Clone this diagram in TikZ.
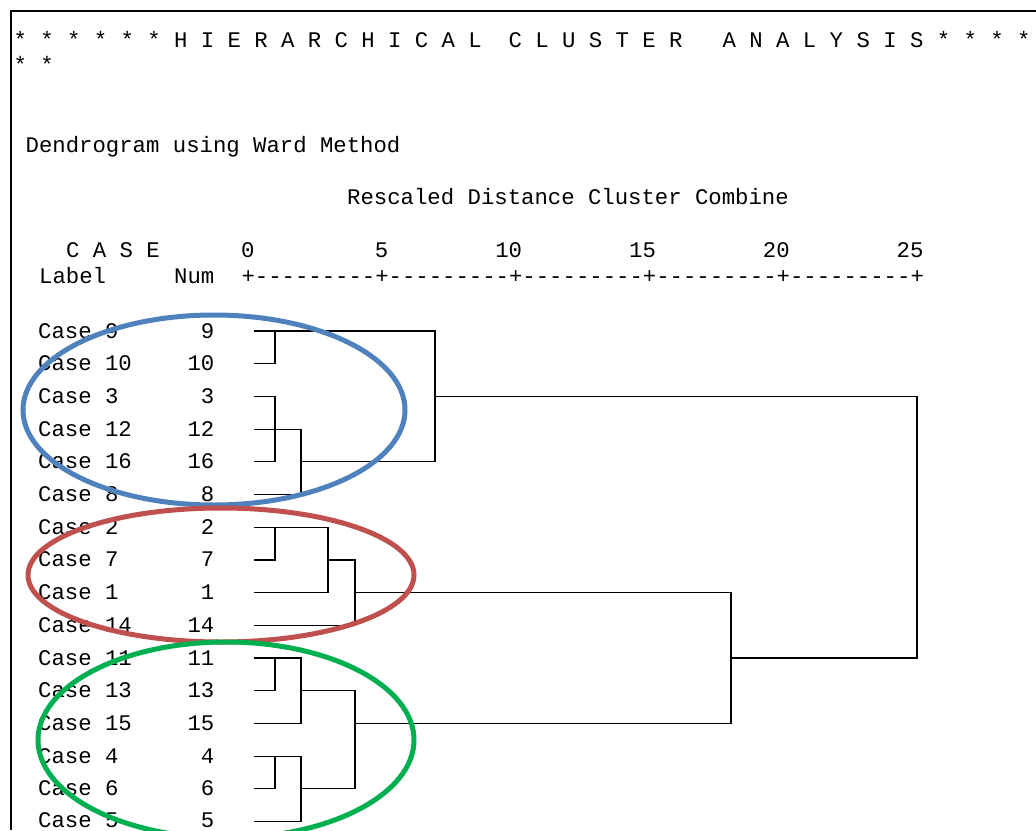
\documentclass[tikz,border=0pt]{standalone}
\usepackage{fontspec}
\newfontfamily\spssfont{Liberation Mono}
\definecolor{ringblue}{HTML}{4F81BD}
\definecolor{ringred}{HTML}{C0504D}
\definecolor{ringgreen}{HTML}{00B050}
\tikzset{
  txt/.style={font=\spssfont\fontsize{22.3}{26}\selectfont,inner sep=0pt,anchor=base west},
  num/.style={txt,anchor=base east},
  tree/.style={line width=1.2pt,line cap=rect},
  ring/.style={line width=5pt}
}
\begin{document}
\begin{tikzpicture}[x=1pt,y=-1pt]
            \useasboundingbox (0,0) rectangle (1036,830);
            \fill[white] (0,0) rectangle (1036,830);
            \draw[line width=2.5pt] (11,830) -- (11,11) -- (1036,11);

            \node[txt] (title) at (13.3,47) {*~*~*~*~*~*~H~I~E~R~A~R~C~H~I~C~A~L~~C~L~U~S~T~E~R~~~A~N~A~L~Y~S~I~S~*~*~*~*};
            \node[txt] (stars) at (13.3,72) {*~*};
            \node[txt] (method) at (25.5,152) {Dendrogram using Ward Method};
            \node[txt] (rescaled) at (347,204) {Rescaled Distance Cluster Combine};
            \node[txt] (case) at (66,257) {C~A~S~E};
            \node[txt] (label) at (39,283) {Label};
            \node[num] (numhead) at (214.5,283) {Num};
            \node[txt] (axis) at (241.3,283) {+---------+---------+---------+---------+---------+};
            \node[num] (t0) at (254.7,257) {0};
            \node[num] (t5) at (388.5,257) {5};
            \node[num] (t10) at (522.3,257) {10};
            \node[num] (t15) at (656.1,257) {15};
            \node[num] (t20) at (789.9,257) {20};
            \node[num] (t25) at (923.7,257) {25};

            \node[txt] (l9) at (38,338) {Case 9};
            \node[txt] (l10) at (38,370.7) {Case 10};
            \node[txt] (l3) at (38,403.4) {Case 3};
            \node[txt] (l12) at (38,436.1) {Case 12};
            \node[txt] (l16) at (38,468.8) {Case 16};
            \node[txt] (l8) at (38,501.5) {Case 8};
            \node[txt] (l2) at (38,534.2) {Case 2};
            \node[txt] (l7) at (38,566.9) {Case 7};
            \node[txt] (l1) at (38,599.6) {Case 1};
            \node[txt] (l14) at (38,632.3) {Case 14};
            \node[txt] (l11) at (38,665) {Case 11};
            \node[txt] (l13) at (38,697.7) {Case 13};
            \node[txt] (l15) at (38,730.4) {Case 15};
            \node[txt] (l4) at (38,763.1) {Case 4};
            \node[txt] (l6) at (38,795.8) {Case 6};
            \node[txt] (l5) at (38,827.6) {Case 5};

            \node[num] (n9) at (214.5,338) {9};
            \node[num] (n10) at (214.5,370.7) {10};
            \node[num] (n3) at (214.5,403.4) {3};
            \node[num] (n12) at (214.5,436.1) {12};
            \node[num] (n16) at (214.5,468.8) {16};
            \node[num] (n8) at (214.5,501.5) {8};
            \node[num] (n2) at (214.5,534.2) {2};
            \node[num] (n7) at (214.5,566.9) {7};
            \node[num] (n1) at (214.5,599.6) {1};
            \node[num] (n14) at (214.5,632.3) {14};
            \node[num] (n11) at (214.5,665) {11};
            \node[num] (n13) at (214.5,697.7) {13};
            \node[num] (n15) at (214.5,730.4) {15};
            \node[num] (n4) at (214.5,763.1) {4};
            \node[num] (n6) at (214.5,795.8) {6};
            \node[num] (n5) at (214.5,827.6) {5};

            \coordinate (c9) at (255,331);
            \coordinate (c10) at (255,363.7);
            \coordinate (c3) at (255,396.4);
            \coordinate (c12) at (255,429.1);
            \coordinate (c16) at (255,461.8);
            \coordinate (c8) at (255,494.5);
            \coordinate (c2) at (255,527.2);
            \coordinate (c7) at (255,559.9);
            \coordinate (c1) at (255,592.6);
            \coordinate (c14) at (255,625.3);
            \coordinate (c11) at (255,658);
            \coordinate (c13) at (255,690.7);
            \coordinate (c15) at (255,723.4);
            \coordinate (c4) at (255,756.1);
            \coordinate (c6) at (255,788.8);
            \coordinate (c5) at (255,821.5);

            \coordinate (m9) at (275,331);
            \coordinate (m12) at (275,429.1);
            \coordinate (m16) at (301,461.8);
            \coordinate (mblue) at (435,396.4);
            \coordinate (m2) at (275,527.2);
            \coordinate (m7) at (328,559.9);
            \coordinate (mred) at (355,592.6);
            \coordinate (m11) at (275,658);
            \coordinate (m13) at (301,690.7);
            \coordinate (m4) at (275,756.1);
            \coordinate (m6) at (301,788.8);
            \coordinate (mgreen) at (355,723.4);
            \coordinate (mlow) at (731,658);
            \coordinate (mall) at (917,527);

            \draw[tree] (c9) -- (m9) -| (mblue);
            \draw[tree] (c10) -| (m9);
            \draw[tree] (c3) -| (m12);
            \draw[tree] (c16) -| (m12);
            \draw[tree] (c12) -- (m12) -| (m16);
            \draw[tree] (c8) -| (m16);
            \draw[tree] (m16) -| (mblue);
            \draw[tree] (mblue) -| (mall);

            \draw[tree] (c2) -- (m2) -| (m7);
            \draw[tree] (c7) -| (m2);
            \draw[tree] (c1) -| (m7);
            \draw[tree] (m7) -| (mred);
            \draw[tree] (c14) -| (mred);
            \draw[tree] (mred) -| (mlow);

            \draw[tree] (c11) -- (m11) -| (m13);
            \draw[tree] (c13) -| (m11);
            \draw[tree] (c15) -| (m13);
            \draw[tree] (m13) -| (mgreen);
            \draw[tree] (c4) -- (m4) -| (m6);
            \draw[tree] (c6) -| (m4);
            \draw[tree] (c5) -| (m6);
            \draw[tree] (m6) -| (mgreen);
            \draw[tree] (mgreen) -| (mlow);
            \draw[tree] (mlow) -| (mall);

            \draw[ring,ringblue] (214,410) ellipse [x radius=191,y radius=95];
            \draw[ring,ringred] (221,575) ellipse [x radius=193,y radius=67];
            \draw[ring,ringgreen] (226,740) ellipse [x radius=188,y radius=98];
        \end{tikzpicture}
\end{document}
